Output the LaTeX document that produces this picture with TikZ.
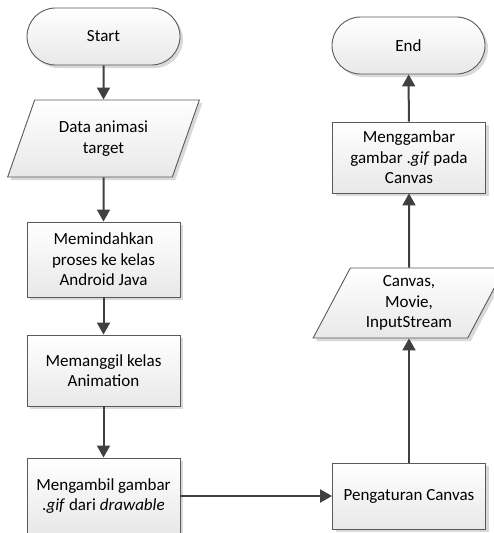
\documentclass[tikz,border=0pt]{standalone}
\usepackage{fontspec}
\setmainfont{Carlito}
\usetikzlibrary{arrows.meta,shapes.misc,shapes.geometric,shadows}
\definecolor{edge}{HTML}{5A5A5A}
\definecolor{flow}{HTML}{404040}
\definecolor{shade}{HTML}{D9D9D9}
\tikzset{
  base/.style={draw=edge, line width=0.9pt, top color=white, bottom color=black!9,
    drop shadow={shadow xshift=3pt, shadow yshift=-3pt, fill=shade, opacity=1},
    align=center, font=\fontsize{17}{20.5}\selectfont, inner sep=0pt},
  terminal/.style={base, rounded rectangle, minimum width=153pt, minimum height=57pt},
  process/.style={base, rectangle, minimum width=153pt},
  io/.style={base, trapezium, trapezium left angle=63.5, trapezium right angle=116.5,
    trapezium stretches=true, minimum width=192pt},
  flowline/.style={draw=flow, line width=2pt, -{Triangle[width=13pt,length=12pt]}}
}
\begin{document}
\begin{tikzpicture}[x=1pt, y=-1pt]
  \useasboundingbox (0,0) rectangle (494,533);
  \clip (0,0) rectangle (494,533);
  % left column
  \node[terminal] (start) at (103.5,36.5) {Start};
  \node[io, minimum height=77pt] (data) at (103.5,138.5) {Data animasi\\target};
  \node[process, minimum height=75pt] (pindah) at (103.5,259.5) {Memindahkan\\proses ke kelas\\Android Java};
  \node[process, minimum height=71pt] (panggil) at (103.5,370.5) {Memanggil kelas\\Animation};
  \node[process, minimum height=76pt] (ambil) at (103.5,496) {Mengambil gambar\\.\textit{gif} dari \textit{drawable}};
  % right column
  \node[process, minimum height=66pt] (atur) at (409,496) {Pengaturan Canvas};
  \node[io, minimum height=70pt] (canvas) at (409,303) {Canvas,\\Movie,\\InputStream};
  \node[process, minimum height=71pt] (gambar) at (409,157.5) {Menggambar\\gambar .\textit{gif} pada\\Canvas};
  \node[terminal] (end) at (408.5,45.5) {End};
  % connectors
  \draw[flowline] (start) -- (data);
  \draw[flowline] (data) -- (pindah);
  \draw[flowline] (pindah) -- (panggil);
  \draw[flowline] (panggil) -- (ambil);
  \draw[flowline] (ambil) -- (atur);
  \draw[flowline] (atur) -- (canvas);
  \draw[flowline] (canvas) -- (gambar);
  \draw[flowline] (gambar) -- (end);
\end{tikzpicture}
\end{document}
